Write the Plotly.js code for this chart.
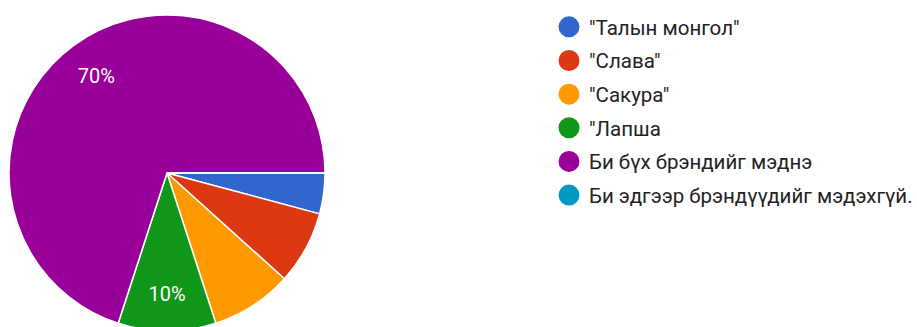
<!DOCTYPE html>
<html>
<head>
<meta charset="utf-8">
<script src="https://cdn.plot.ly/plotly-3.0.1.min.js"></script>
<style>
  html, body { margin: 0; padding: 0; background: #fff; overflow: hidden; }
  #chart { width: 940px; height: 340px; }
</style>
</head>
<body>
<div id="chart"></div>
<script>
// Survey answers: which of these brands do you know?
const labels = ['"Талын монгол"', '"Слава"', '"Сакура"', '"Лапша', 'Би бүх брэндийг мэднэ', 'Би эдгээр брэндүүдийг мэдэхгүй.'];
const counts = [5, 9, 10, 12, 84, 0];
const colors = ['#3366cc', '#dc3912', '#ff9900', '#109618', '#990099', '#0099c6'];

const W = 940;
const H = 340;

const total = counts.reduce((a, b) => a + b, 0);
// Small slices stay unlabeled; the rest show their share.
const sliceText = counts.map(c => (c / total >= 0.095 ? '%{percent:.0%}' : ''));

const pieDomain = { x: [9 / W, 325 / W], y: [1 - 331 / H, 1 - 15 / H] };

// Coloured slices
const pie = {
  type: 'pie',
  labels: labels,
  values: counts,
  marker: { colors: colors, line: { color: '#ffffff', width: 1.5 } },
  sort: false,
  direction: 'clockwise',
  rotation: 90,
  textinfo: 'none',
  hoverinfo: 'label+percent',
  showlegend: false,
  domain: pieDomain
};

// Transparent ring on top that carries the percentage labels,
// so they sit out towards the rim of each slice.
const labelRing = {
  type: 'pie',
  labels: labels,
  values: counts,
  hole: 0.52,
  marker: { colors: labels.map(() => 'rgba(0,0,0,0)'), line: { width: 0 } },
  sort: false,
  direction: 'clockwise',
  rotation: 90,
  texttemplate: sliceText,
  textposition: 'inside',
  insidetextorientation: 'horizontal',
  textfont: { family: 'Roboto, Arial, sans-serif', size: 20, color: '#ffffff' },
  hoverinfo: 'skip',
  showlegend: false,
  domain: pieDomain
};

// Legend entries with round swatches, one per answer.
const legendTraces = labels.map((name, i) => ({
  type: 'scatter',
  mode: 'markers',
  x: [null],
  y: [null],
  name: name,
  legendgroup: 'g' + i,
  marker: { symbol: 'circle', size: 16, color: colors[i], line: { color: colors[i], width: 5 } },
  hoverinfo: 'skip'
}));

const layout = {
  width: W,
  height: H,
  margin: { l: 0, r: 0, t: 0, b: 0, autoexpand: false },
  paper_bgcolor: '#ffffff',
  plot_bgcolor: '#ffffff',
  xaxis: { visible: false, domain: [0.99, 1] },
  yaxis: { visible: false, domain: [0.99, 1] },
  showlegend: true,
  legend: {
    x: 549 / W,
    xanchor: 'left',
    y: 1 - 7 / H,
    yanchor: 'top',
    tracegroupgap: 4,
    itemclick: false,
    font: { family: 'Roboto, Arial, sans-serif', size: 20.5, color: '#222222' },
    bgcolor: 'rgba(0,0,0,0)'
  }
};

Plotly.newPlot('chart', [pie, labelRing].concat(legendTraces), layout, { displayModeBar: false, staticPlot: true });
</script>
</body>
</html>
